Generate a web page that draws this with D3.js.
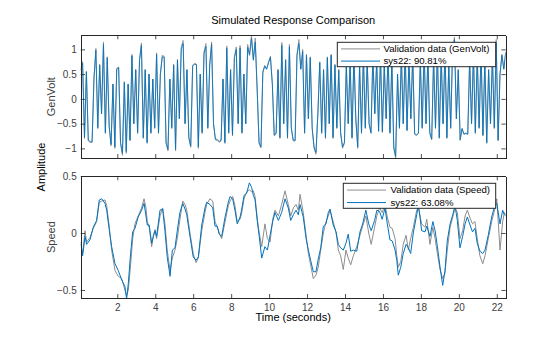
<!DOCTYPE html>
<html>
<head>
<meta charset="utf-8">
<script src="https://cdn.jsdelivr.net/npm/d3@7"></script>
<style>
  body { margin: 0; background: #fff; }
  text { font-family: "Liberation Sans", Arial, sans-serif; }
</style>
</head>
<body>
<div id="chart"></div>
<script>
/* global d3 */
const width = 560
const height = 337

// GenVolt: sampled every 0.1 s starting at 0.07 s
const genStart = 0.07
const genStep = 0.1
const genVolt = [0.60, 0.75, -0.80, 0.55, -0.85, -0.88, -0.88, 0.40, 1.02, -0.60,
  0.70, -0.30, 1.15, -0.70, 0.85, -0.55, -0.95, 0.30, -1.00, 0.62,
  0.64, -0.90, -1.14, 0.35, -1.10, 0.30, -0.85, 0.90, -0.50, 0.60,
  -0.70, 0.80, 1.13, -0.80, 0.60, -0.90, 0.50, -0.70, 0.40, -0.60,
  0.93, -0.70, 0.50, 0.88, 0.86, -0.90, -1.05, 0.40, -0.60, 0.70,
  -1.05, 0.80, -0.40, 1.05, 1.18, -0.50, 0.60, -0.80, -0.98, 0.68,
  0.72, 0.70, -1.00, 0.50, -0.70, 0.95, 1.12, -0.60, 0.70, 1.15,
  -0.50, -0.83, -0.84, -0.88, -0.85, 0.40, -0.90, 1.07, -0.70, 0.60,
  -0.75, 0.85, 1.05, -0.50, 1.08, -0.70, 0.50, -0.50, 1.10, 0.90,
  1.30, 0.80, 1.23, 0.20, -0.90, -0.99, 0.55, 0.68, 0.60, 0.75,
  0.86, 0.30, -0.75, -0.70, 0.60, -0.80, 1.14, -0.50, 0.80, -0.80,
  1.10, -0.60, -0.85, -0.85, 0.90, 1.20, 0.60, 1.00, -0.70, 0.90,
  -0.40, 0.85, -0.60, -1.00, -1.12, -0.30, 0.75, -0.70, 0.60, -0.80,
  0.85, -0.50, 0.90, -0.80, 0.70, -0.60, 0.60, -0.70, -1.00, -0.90,
  0.70, -0.50, 0.80, -0.80, 0.90, -0.40, -1.00, 0.70, -0.70, 0.90,
  -0.60, 0.80, -0.50, -0.70, 0.90, -0.30, 0.80, -0.66, 0.90, -0.68,
  0.70, -0.40, 0.95, -0.70, 0.80, -1.00, -1.20, 0.50, -0.60, 0.90,
  -0.50, 1.00, -0.65, 0.80, -0.40, 0.90, -0.72, -0.74, -0.70, 0.80,
  -0.60, 1.00, -0.50, 0.90, -0.70, -0.83, 0.85, -0.60, 1.00, -0.80,
  0.90, -0.50, 1.05, -0.80, 0.70, -0.60, 1.00, 1.25, -0.40, 0.60,
  -0.84, -0.60, -0.72, -0.70, -0.72, 0.80, -0.50, 0.95, -0.70, 0.90,
  -0.60, 1.00, -0.75, 0.80, -0.90, 0.60, -0.50, 0.90, -0.60, 1.20,
  -0.85, 0.50, 0.90, 0.60, 0.95]
const genVoltSim = [0.58, 0.72, -0.78, 0.55, -0.83, -0.86, -0.87, 0.42, 0.98, -0.58,
  0.68, -0.30, 1.10, -0.68, 0.83, -0.55, -0.92, 0.30, -0.97, 0.60,
  0.63, -0.88, -1.10, 0.33, -1.06, 0.30, -0.83, 0.87, -0.50, 0.58,
  -0.68, 0.78, 1.08, -0.78, 0.58, -0.88, 0.50, -0.68, 0.40, -0.58,
  0.90, -0.68, 0.50, 0.85, 0.84, -0.88, -1.02, 0.40, -0.58, 0.68,
  -1.02, 0.78, -0.40, 1.00, 1.12, -0.50, 0.58, -0.78, -0.95, 0.66,
  0.70, 0.69, -0.97, 0.50, -0.68, 0.92, 1.06, -0.58, 0.68, 1.10,
  -0.50, -0.81, -0.82, -0.86, -0.83, 0.40, -0.88, 1.02, -0.68, 0.58,
  -0.73, 0.82, 1.00, -0.50, 1.03, -0.68, 0.50, -0.50, 1.04, 0.88,
  1.22, 0.78, 1.15, 0.20, -0.88, -0.97, 0.53, 0.66, 0.60, 0.73,
  0.84, 0.30, -0.73, -0.69, 0.58, -0.78, 1.08, -0.50, 0.78, -0.78,
  1.05, -0.58, -0.83, -0.84, 0.88, 1.12, 0.60, 0.96, -0.68, 0.88,
  -0.40, 0.83, -0.58, -0.97, -1.08, -0.30, 0.73, -0.68, 0.58, -0.78,
  0.83, -0.50, 0.88, -0.78, 0.68, -0.58, 0.58, -0.68, -0.97, -0.88,
  0.68, -0.50, 0.78, -0.78, 0.88, -0.40, -0.97, 0.68, -0.68, 0.88,
  -0.58, 0.78, -0.50, -0.68, 0.88, -0.30, 0.78, -0.65, 0.88, -0.66,
  0.68, -0.40, 0.92, -0.68, 0.78, -0.97, -1.16, 0.50, -0.58, 0.88,
  -0.50, 0.97, -0.63, 0.78, -0.40, 0.88, -0.70, -0.73, -0.69, 0.78,
  -0.58, 0.97, -0.50, 0.88, -0.68, -0.81, 0.83, -0.58, 0.97, -0.78,
  0.88, -0.50, 1.00, -0.78, 0.68, -0.58, 0.97, 1.20, -0.40, 0.58,
  -0.82, -0.60, -0.71, -0.69, -0.71, 0.78, -0.50, 0.92, -0.68, 0.88,
  -0.58, 0.97, -0.73, 0.78, -0.88, 0.58, -0.50, 0.88, -0.58, 1.14,
  -0.83, 0.50, 0.88, 0.60, 0.93]

// Speed: times (s) and values
const speedTime = [0.07, 0.17, 0.30, 0.38, 0.56, 0.73, 0.91, 1.05, 1.18, 1.35,
  1.44, 1.58, 1.70, 1.88, 2.05, 2.23, 2.40, 2.49, 2.58, 2.70,
  2.81, 2.93, 3.10, 3.28, 3.41, 3.51, 3.58, 3.68, 3.81, 3.90,
  3.99, 4.07, 4.25, 4.39, 4.51, 4.63, 4.78, 4.90, 5.04, 5.16,
  5.30, 5.45, 5.57, 5.66, 5.83, 6.00, 6.15, 6.27, 6.45, 6.62,
  6.71, 6.88, 7.03, 7.15, 7.27, 7.37, 7.50, 7.68, 7.85, 7.94,
  8.08, 8.20, 8.32, 8.47, 8.56, 8.68, 8.82, 8.96, 9.08, 9.17,
  9.26, 9.38, 9.48, 9.61, 9.78, 9.91, 10.05, 10.19, 10.31, 10.49,
  10.66, 10.84, 11.01, 11.14, 11.28, 11.42, 11.54, 11.63, 11.80, 11.95,
  12.07, 12.19, 12.33, 12.47, 12.59, 12.72, 12.86, 13.00, 13.12, 13.21,
  13.38, 13.53, 13.65, 13.77, 13.91, 14.05, 14.17, 14.30, 14.44, 14.62,
  14.79, 14.93, 15.10, 15.25, 15.38, 15.56, 15.68, 15.82, 15.96, 16.11,
  16.23, 16.37, 16.49, 16.64, 16.73, 16.81, 16.94, 17.07, 17.22, 17.34,
  17.46, 17.60, 17.78, 17.87, 18.04, 18.22, 18.31, 18.48, 18.63, 18.75,
  18.87, 19.01, 19.15, 19.27, 19.39, 19.54, 19.68, 19.80, 19.92, 20.06,
  20.20, 20.33, 20.45, 20.57, 20.72, 20.85, 20.97, 21.11, 21.26, 21.38,
  21.55, 21.73, 21.91, 22.00, 22.17, 22.31, 22.40, 22.47]
const speedSim = [-0.08, -0.20, -0.03, -0.10, -0.06, 0.05, 0.11, 0.29, 0.30, 0.26,
  0.20, 0.02, -0.12, -0.27, -0.33, -0.41, -0.47, -0.58, -0.44, -0.18,
  0.01, 0.04, 0.14, 0.20, 0.26, 0.15, 0.07, 0.07, -0.09, -0.03,
  0.02, -0.03, 0.20, 0.21, 0.02, -0.21, -0.38, -0.15, -0.13, 0.02,
  0.18, 0.26, 0.21, 0.16, -0.03, -0.21, -0.24, -0.21, 0.07, 0.22,
  0.27, 0.25, 0.22, 0.06, 0.06, -0.01, -0.03, 0.14, 0.27, 0.32,
  0.30, 0.20, 0.08, 0.14, 0.21, 0.33, 0.35, 0.44, 0.40, 0.33,
  0.29, 0.10, -0.03, -0.22, -0.12, -0.15, -0.02, 0.10, 0.18, 0.11,
  0.18, 0.30, 0.22, 0.11, 0.16, 0.20, 0.16, 0.25, 0.14, -0.05,
  -0.15, -0.24, -0.34, -0.34, -0.23, -0.13, 0.06, 0.08, 0.18, 0.21,
  0.07, 0.01, -0.10, -0.13, -0.15, -0.09, -0.01, -0.16, -0.15, -0.16,
  0.01, 0.08, 0.20, 0.08, 0.02, 0.11, 0.20, 0.19, 0.12, 0.22,
  0.08, -0.06, -0.07, -0.15, -0.24, -0.37, -0.30, -0.18, -0.10, -0.13,
  -0.18, 0.00, 0.16, 0.25, 0.02, 0.01, 0.06, -0.03, 0.10, 0.02,
  -0.12, -0.30, -0.46, -0.33, -0.07, 0.08, 0.16, 0.24, 0.11, -0.13,
  -0.03, 0.08, 0.14, 0.08, 0.01, 0.04, -0.09, -0.16, -0.18, -0.15,
  -0.02, 0.14, 0.25, 0.26, 0.08, 0.20, 0.16, 0.15]
const speedVal = [-0.10, -0.18, 0.02, -0.08, -0.04, 0.04, 0.10, 0.27, 0.28, 0.29,
  0.24, 0.05, -0.15, -0.33, -0.38, -0.40, -0.50, -0.55, -0.50, -0.28,
  -0.05, 0.08, 0.15, 0.22, 0.30, 0.22, 0.10, 0.05, -0.12, -0.02,
  0.03, -0.05, 0.15, 0.22, 0.08, -0.15, -0.33, -0.22, -0.15, -0.05,
  0.12, 0.28, 0.25, 0.20, 0.00, -0.18, -0.26, -0.22, 0.02, 0.18,
  0.25, 0.30, 0.28, 0.10, 0.05, 0.00, -0.05, 0.10, 0.24, 0.28,
  0.32, 0.24, 0.10, 0.12, 0.18, 0.30, 0.36, 0.38, 0.36, 0.37,
  0.32, 0.12, 0.00, -0.12, 0.08, -0.05, -0.08, 0.12, 0.20, 0.15,
  0.25, 0.37, 0.25, 0.15, 0.22, 0.25, 0.20, 0.34, 0.18, -0.02,
  -0.18, -0.28, -0.40, -0.37, -0.30, -0.15, 0.00, 0.10, 0.15, 0.20,
  0.10, 0.00, -0.15, -0.20, -0.32, -0.15, -0.22, -0.28, -0.20, -0.12,
  -0.02, 0.06, 0.15, 0.00, -0.10, 0.05, 0.15, 0.22, 0.18, 0.25,
  0.14, 0.05, 0.04, -0.05, -0.20, -0.30, -0.25, -0.10, -0.02, -0.15,
  -0.05, 0.05, 0.20, 0.22, 0.08, 0.05, 0.12, -0.10, 0.05, -0.05,
  -0.18, -0.32, -0.40, -0.35, -0.15, 0.05, 0.14, 0.22, 0.18, -0.05,
  0.02, 0.15, 0.20, 0.14, 0.08, 0.10, -0.05, -0.20, -0.27, -0.20,
  -0.05, 0.10, 0.22, 0.30, -0.15, 0.10, 0.18, 0.16]

const xTicks = [2, 4, 6, 8, 10, 12, 14, 16, 18, 20, 22]
const genTicks = [-1, -0.5, 0, 0.5, 1]
const speedTicks = [-0.5, 0, 0.5]
const legendGen = ['Validation data (GenVolt)', 'sys22: 90.81%']
const legendSpeed = ['Validation data (Speed)', 'sys22: 63.08%']

const axisColor = '#262626'
const tickTextColor = '#404040'
const valColor = '#8c8c8c'
const simColor = '#0072bd'
const tickLen = 4.3

const left = 80.7
const right = 505.7

const svg = d3.select('#chart')
  .append('svg')
  .attr('width', width)
  .attr('height', height)

const x = d3.scaleLinear().domain([0.07, 22.47]).range([left, right])

const panels = [
  {
    id: 'gen', top: 35, bottom: 158.3, domain: [-1.2, 1.29], ticks: genTicks, label: 'GenVolt',
    val: genVolt.map((v, i) => [genStart + i * genStep, v]),
    sim: genVoltSim.map((v, i) => [genStart + i * genStep, v]),
    legend: legendGen, showX: false, lineWidth: 0.85,
    box: { x0: 337.3, y0: 42.3, x1: 495.7, y1: 66.7, lineX0: 341, lineX1: 380, textX: 383.5 }
  },
  {
    id: 'speed', top: 176, bottom: 298.3, domain: [-0.573, 0.5], ticks: speedTicks, label: 'Speed',
    val: speedTime.map((t, i) => [t, speedVal[i]]),
    sim: speedTime.map((t, i) => [t, speedSim[i]]),
    legend: legendSpeed, showX: true, lineWidth: 1,
    box: { x0: 343.3, y0: 183.3, x1: 495.7, y1: 208.3, lineX0: 347, lineX1: 386, textX: 390.5 }
  }
]

panels.forEach((p) => {
  const y = d3.scaleLinear().domain(p.domain).range([p.bottom, p.top])

  svg.append('clipPath')
    .attr('id', 'clip-' + p.id)
    .append('rect')
    .attr('x', left)
    .attr('y', p.top)
    .attr('width', right - left)
    .attr('height', p.bottom - p.top)

  const line = d3.line()
    .x((d) => x(d[0]))
    .y((d) => y(d[1]))

  const g = svg.append('g').attr('clip-path', `url(#clip-${p.id})`)
  g.append('path')
    .attr('d', line(p.val))
    .attr('fill', 'none')
    .attr('stroke', valColor)
    .attr('stroke-width', p.lineWidth)
  g.append('path')
    .attr('d', line(p.sim))
    .attr('fill', 'none')
    .attr('stroke', simColor)
    .attr('stroke-width', p.lineWidth)

  // axes, ticks pointing inward on all four sides
  const bottomAxis = d3.axisBottom(x).tickValues(xTicks)
    .tickSizeInner(-tickLen).tickSizeOuter(0).tickPadding(6)
  if (!p.showX) bottomAxis.tickFormat('')
  svg.append('g').attr('class', 'axis')
    .attr('transform', `translate(0,${p.bottom})`)
    .call(bottomAxis)
  svg.append('g').attr('class', 'axis')
    .attr('transform', `translate(0,${p.top})`)
    .call(d3.axisTop(x).tickValues(xTicks).tickSizeInner(-tickLen).tickSizeOuter(0).tickFormat(''))
  svg.append('g').attr('class', 'axis')
    .attr('transform', `translate(${left},0)`)
    .call(d3.axisLeft(y).tickValues(p.ticks).tickSizeInner(-tickLen).tickSizeOuter(0).tickPadding(4)
      .tickFormat(d3.format('')))
  svg.append('g').attr('class', 'axis')
    .attr('transform', `translate(${right},0)`)
    .call(d3.axisRight(y).tickValues(p.ticks).tickSizeInner(-tickLen).tickSizeOuter(0).tickFormat(''))

  svg.append('text')
    .attr('transform', `translate(55,${(p.top + p.bottom) / 2}) rotate(-90)`)
    .attr('text-anchor', 'middle')
    .attr('font-size', 11)
    .attr('fill', tickTextColor)
    .text(p.label)

  // legend
  const b = p.box
  const lg = svg.append('g')
  lg.append('rect')
    .attr('x', b.x0).attr('y', b.y0)
    .attr('width', b.x1 - b.x0).attr('height', b.y1 - b.y0)
    .attr('fill', '#fff')
    .attr('stroke', axisColor)
    .attr('stroke-width', 1)
  const rowH = (b.y1 - b.y0) / 2
  p.legend.forEach((label, i) => {
    const cy = b.y0 + rowH * (i + 0.5) + 0.5
    lg.append('line')
      .attr('x1', b.lineX0).attr('x2', b.lineX1)
      .attr('y1', cy).attr('y2', cy)
      .attr('stroke', i === 0 ? valColor : simColor)
      .attr('stroke-width', 1)
    lg.append('text')
      .attr('x', b.textX)
      .attr('y', cy)
      .attr('dy', '0.35em')
      .attr('font-size', 9.6)
      .attr('fill', '#000')
      .text(label)
  })
})

svg.selectAll('.axis path').attr('stroke', axisColor).attr('stroke-width', 1).attr('shape-rendering', 'crispEdges')
svg.selectAll('.axis line').attr('stroke', axisColor).attr('stroke-width', 0.8)
svg.selectAll('.axis text')
  .attr('font-size', 10)
  .attr('fill', tickTextColor)
  .style('font-family', '"Liberation Sans", Arial, sans-serif')

svg.append('text')
  .attr('x', (left + right) / 2)
  .attr('y', 24)
  .attr('text-anchor', 'middle')
  .attr('font-size', 11)
  .attr('fill', '#000')
  .text('Simulated Response Comparison')

svg.append('text')
  .attr('transform', `translate(45,167) rotate(-90)`)
  .attr('text-anchor', 'middle')
  .attr('font-size', 11)
  .attr('fill', '#000')
  .text('Amplitude')

svg.append('text')
  .attr('x', (left + right) / 2)
  .attr('y', 320.5)
  .attr('text-anchor', 'middle')
  .attr('font-size', 11)
  .attr('fill', '#000')
  .text('Time (seconds)')
</script>
</body>
</html>
